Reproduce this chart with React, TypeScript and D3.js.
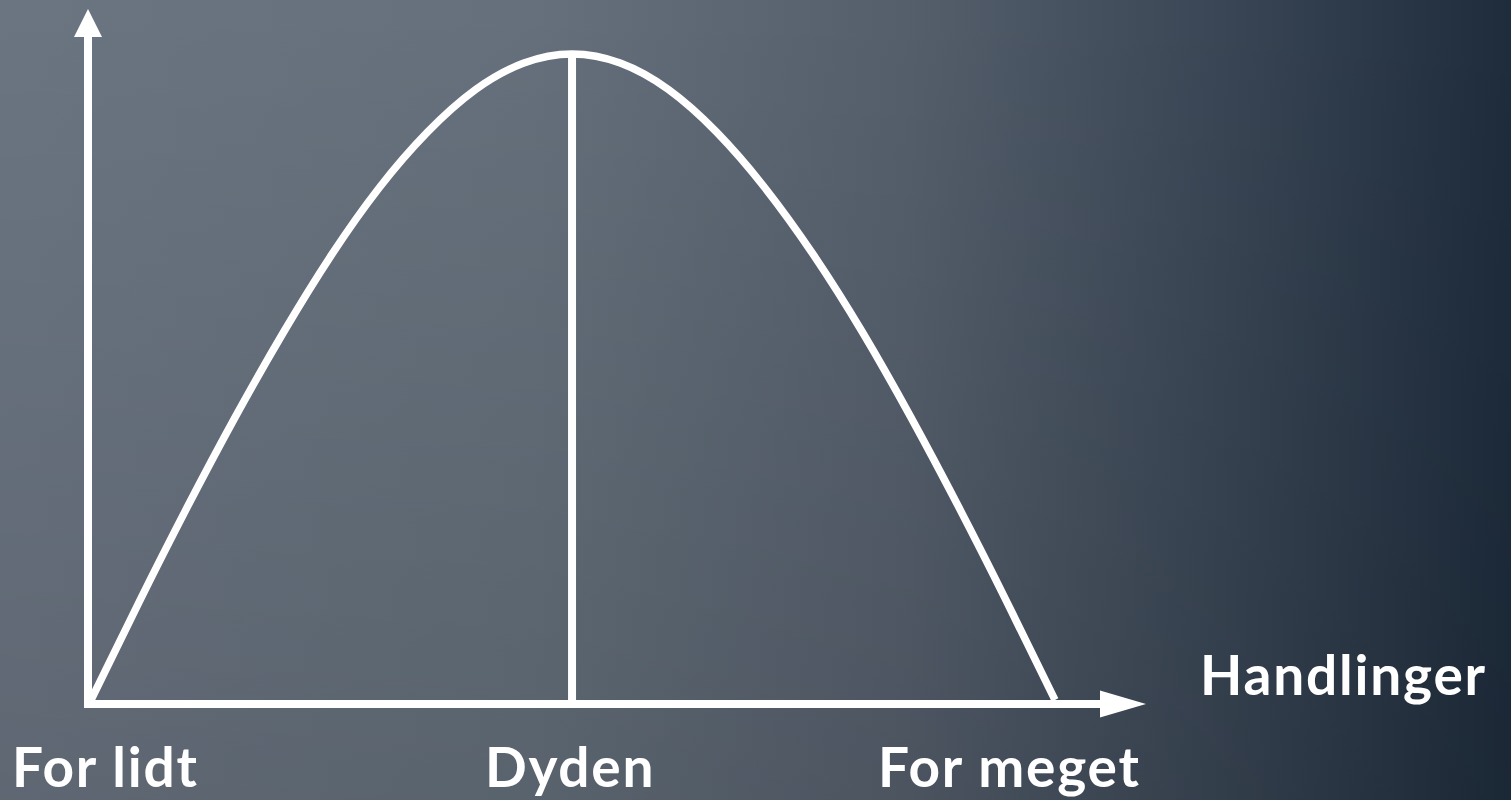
import { useMemo } from "react";
import * as d3 from "d3";

const WIDTH = 1511;
const HEIGHT = 800;

// curve: x in 0..100 (for lidt -> for meget), y in 0..100 (peak = dyden)
const curveX = [0, 5.0, 10.0, 15.0, 20.0, 24.95, 29.9, 34.9, 39.9, 44.9, 49.9, 54.9, 59.9, 64.9, 69.9, 74.95, 80.0, 85.0, 90.0, 95.0, 100];
const curveY = [0, 15.2, 29.9, 43.9, 57.0, 68.9, 79.3, 87.9, 94.5, 98.6, 100, 98.6, 94.5, 87.9, 79.3, 68.9, 57.0, 43.9, 29.9, 15.2, 0];

const peakX = 49.9;
const peakY = 100;

const xLabels = ["For lidt", "Dyden", "For meget"];
const xLabelPos = [12, 485, 878];
const axisLabel = "Handlinger";

const FONT = "Lato, 'Open Sans', sans-serif";

const App = () => {
  const xScale = useMemo(() => d3.scaleLinear().domain([0, 100]).range([91, 1055]), []);
  const yScale = useMemo(() => d3.scaleLinear().domain([0, 100]).range([700, 54]), []);

  const points: [number, number][] = curveX.map((x, i) => [x, curveY[i]]);
  const line = d3
    .line<[number, number]>()
    .x((d) => xScale(d[0]))
    .y((d) => yScale(d[1]))
    .curve(d3.curveNatural);

  const axisY = 704;
  const axisX = 88;

  return (
    <svg width={WIDTH} height={HEIGHT} style={{ position: "fixed", left: 0, top: 0 }}>
      <defs>
        <linearGradient id="bg" x1="0" y1="0" x2="1" y2="0">
          <stop offset="0" stopColor="#6b7582" />
          <stop offset="0.35" stopColor="#65707c" />
          <stop offset="0.6" stopColor="#555f6c" />
          <stop offset="0.8" stopColor="#3b4756" />
          <stop offset="1" stopColor="#1e2c3c" />
        </linearGradient>
        <linearGradient id="shade" x1="0" y1="0" x2="0" y2="1">
          <stop offset="0" stopColor="#000" stopOpacity={0} />
          <stop offset="1" stopColor="#000" stopOpacity={0.12} />
        </linearGradient>
      </defs>
      <rect width={WIDTH} height={HEIGHT} fill="url(#bg)" />
      <rect width={WIDTH} height={HEIGHT} fill="url(#shade)" />

      {/* axes */}
      <line x1={axisX} x2={axisX} y1={axisY + 4} y2={36} stroke="#fff" strokeWidth={8} />
      <polygon points={`${axisX - 14},37 ${axisX + 14},37 ${axisX},9`} fill="#fff" />
      <line x1={axisX - 4} x2={1101} y1={axisY} y2={axisY} stroke="#fff" strokeWidth={8} />
      <polygon points={`1100,${axisY - 13.5} 1100,${axisY + 13.5} 1146,${axisY}`} fill="#fff" />

      {/* curve and mean line */}
      <path d={line(points) ?? ""} fill="none" stroke="#fff" strokeWidth={7.5} strokeLinejoin="round" />
      <line
        x1={xScale(peakX)}
        x2={xScale(peakX)}
        y1={yScale(peakY)}
        y2={axisY}
        stroke="#fff"
        strokeWidth={8}
      />

      {/* labels */}
      {xLabels.map((t, i) => (
        <text
          key={t}
          x={xLabelPos[i]}
          y={787}
          fill="#fff"
          fontFamily={FONT}
          fontWeight={700}
          fontSize={55}
          letterSpacing={1.8}
        >
          {t}
        </text>
      ))}
      <text x={1200} y={695} fill="#fff" fontFamily={FONT} fontWeight={700} fontSize={55} letterSpacing={1.8}>
        {axisLabel}
      </text>
    </svg>
  );
};

export default App;
